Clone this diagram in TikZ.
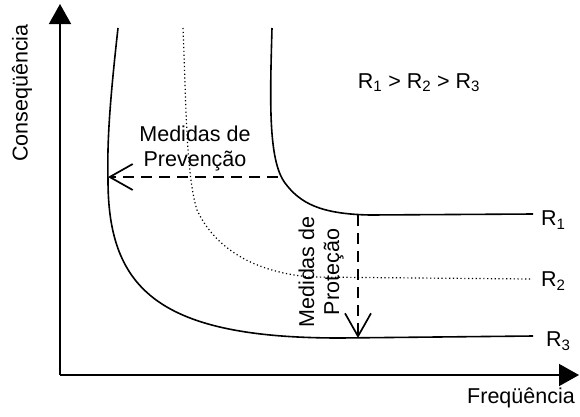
\documentclass[tikz,border=0pt]{standalone}
\usepackage{fontspec}
\setmainfont{Liberation Sans}
\usetikzlibrary{arrows.meta}
\begin{document}
\begin{tikzpicture}[x=1pt,y=-1pt,
  axis/.style={line width=1.6pt,-{Triangle[length=20pt,width=22pt]}},
  curve/.style={line width=1.6pt},
  dotcurve/.style={line width=1.2pt,dash pattern=on 1.2pt off 2.6pt},
  measure/.style={line width=1.7pt,dash pattern=on 11pt off 7pt,-{Straight Barb[length=23pt,width=26pt]}},
  lbl/.style={font=\fontsize{21.5}{25}\selectfont,inner sep=0pt}]
\useasboundingbox (0,0) rectangle (580,416);
% axes
\coordinate (O) at (60,375);
\coordinate (ytip) at (60,4);
\coordinate (xtip) at (579,375);
\draw[axis] (O) -- (ytip);
\draw[axis] (O) -- (xtip);
% curves
\coordinate (r1end) at (533,214);
\coordinate (r2end) at (530,279);
\coordinate (r3end) at (533,336);
\draw[curve] (272,28) .. controls (270,100) and (268,160) .. (285,183)
  .. controls (300,203) and (320,214) .. (370,215) -- (r1end);
\draw[dotcurve] (183,28) .. controls (186,100) and (186,175) .. (197,210)
  .. controls (212,242) and (245,271) .. (310,277) -- (r2end);
\draw[curve] (118,28) .. controls (110,100) and (107,140) .. (108,180)
  .. controls (108,290) and (160,338) .. (340,338) -- (r3end);
% labels of curves
\node[lbl,anchor=west] (R1) at (541,220) {R\textsubscript{1}};
\node[lbl,anchor=west] (R2) at (541,281) {R\textsubscript{2}};
\node[lbl,anchor=west] (R3) at (546,341) {R\textsubscript{3}};
\node[lbl,anchor=base] (rel) at (419,88) {R\textsubscript{1} > R\textsubscript{2} > R\textsubscript{3}};
% axis titles
\node[lbl,anchor=base] (xt) at (521,403) {Freqüência};
\node[lbl,rotate=90] (yt) at (22,93) {Conseqüência};
% measures
\coordinate (pstart) at (278,177);
\coordinate (pend) at (108,177);
\coordinate (qstart) at (358,215);
\coordinate (qend) at (358,338);
\draw[measure] (pstart) -- (pend);
\draw[measure] (qstart) -- (qend);
\node[lbl,align=center] (prev) at (195,148) {Medidas de\\Prevenção};
\node[lbl,align=center,rotate=90] (prot) at (321,272) {Medidas de\\Proteção};
\end{tikzpicture}
\end{document}
